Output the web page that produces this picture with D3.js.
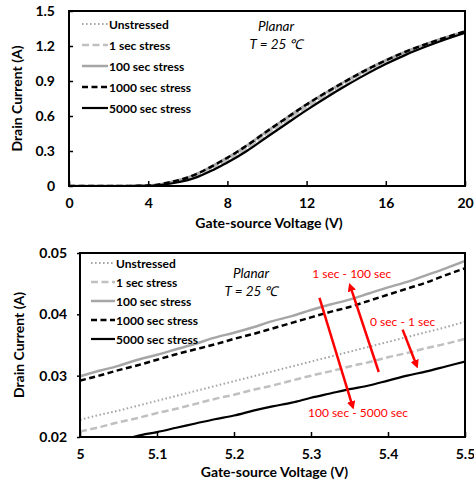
<!DOCTYPE html>
<html>
<head>
<meta charset="utf-8">
<script src="https://cdn.jsdelivr.net/npm/d3@7"></script>
<style>
  html, body { margin: 0; padding: 0; background: #fff; }
  svg { display: block; font-family: Lato, "Liberation Sans", Arial, sans-serif; }
</style>
</head>
<body>
<svg id="chart" width="474" height="485"></svg>
<script>
// ---- Full sweep (0-20 V) ----
const vgsFull = [0, 1, 2, 3, 3.5, 4, 4.5, 5, 5.5, 6, 6.5, 7, 7.5, 8, 9, 10, 11, 12, 13, 14, 15, 16, 17, 18, 19, 20];
const fullUnstressed = [0, 0, 0, 0.0003, 0.001, 0.003, 0.009, 0.023, 0.039, 0.062, 0.095, 0.135, 0.18, 0.225, 0.33, 0.45, 0.565, 0.68, 0.785, 0.885, 0.98, 1.065, 1.14, 1.205, 1.265, 1.32];
const full1s = [0, 0, 0, 0.0003, 0.001, 0.003, 0.008, 0.021, 0.036, 0.058, 0.091, 0.131, 0.176, 0.221, 0.326, 0.446, 0.561, 0.676, 0.781, 0.882, 0.977, 1.062, 1.137, 1.203, 1.263, 1.318];
const full100s = [0, 0, 0, 0.0004, 0.0013, 0.004, 0.012, 0.030, 0.049, 0.074, 0.108, 0.15, 0.196, 0.243, 0.35, 0.47, 0.586, 0.70, 0.804, 0.902, 0.995, 1.078, 1.152, 1.215, 1.273, 1.326];
const full1000s = [0, 0, 0, 0.0004, 0.0012, 0.0038, 0.011, 0.029, 0.048, 0.073, 0.107, 0.149, 0.195, 0.242, 0.349, 0.469, 0.585, 0.699, 0.803, 0.901, 0.994, 1.077, 1.151, 1.214, 1.272, 1.325];
const full5000s = [0, 0, 0, 0.0002, 0.0007, 0.002, 0.006, 0.017, 0.032, 0.050, 0.078, 0.115, 0.157, 0.201, 0.302, 0.42, 0.536, 0.651, 0.759, 0.861, 0.957, 1.045, 1.124, 1.193, 1.256, 1.312];

// ---- Zoomed sweep (5.0-5.5 V) ----
const vgsZoom = [5.000, 5.025, 5.050, 5.075, 5.100, 5.125, 5.150, 5.175, 5.200, 5.225, 5.250, 5.275, 5.300, 5.325, 5.350, 5.375, 5.400, 5.425, 5.450, 5.475, 5.500];
const zoomUnstressed = [0.0228, 0.0236, 0.0243, 0.0251, 0.0259, 0.0267, 0.0275, 0.0283, 0.0291, 0.0299, 0.0307, 0.0315, 0.0323, 0.0331, 0.0339, 0.0347, 0.0355, 0.0363, 0.0371, 0.0379, 0.0388];
const zoom1s = [0.0209, 0.0216, 0.0224, 0.0231, 0.0239, 0.0246, 0.0254, 0.0262, 0.0269, 0.0277, 0.0284, 0.0292, 0.0300, 0.0307, 0.0315, 0.0322, 0.0330, 0.0337, 0.0345, 0.0352, 0.0360];
const zoom100s = [0.0299, 0.0308, 0.0316, 0.0326, 0.0334, 0.0343, 0.0352, 0.0362, 0.0370, 0.0379, 0.0389, 0.0397, 0.0407, 0.0416, 0.0424, 0.0434, 0.0444, 0.0453, 0.0464, 0.0475, 0.0487];
const zoom1000s = [0.0292, 0.0300, 0.0309, 0.0317, 0.0326, 0.0335, 0.0343, 0.0351, 0.0360, 0.0368, 0.0377, 0.0386, 0.0395, 0.0404, 0.0412, 0.0422, 0.0432, 0.0442, 0.0452, 0.0464, 0.0475];
const zoom5000s = [0.0180, 0.0187, 0.0194, 0.0202, 0.0208, 0.0215, 0.0222, 0.0229, 0.0235, 0.0243, 0.0250, 0.0256, 0.0264, 0.0271, 0.0278, 0.0284, 0.0292, 0.0300, 0.0307, 0.0315, 0.0323];

const seriesNames = ["Unstressed", "1 sec stress", "100 sec stress", "1000 sec stress", "5000 sec stress"];

// Tick values
const fullXTicks = [0, 4, 8, 12, 16, 20];
const fullYTicks = [0, 0.3, 0.6, 0.9, 1.2, 1.5];
const zoomXTicks = [5, 5.1, 5.2, 5.3, 5.4, 5.5];
const zoomYTicks = [0.02, 0.03, 0.04, 0.05];

// Red annotations in the zoomed panel (data coordinates)
const annoLabels = ["1 sec - 100 sec", "0 sec - 1 sec", "100 sec - 5000 sec"];
const annoLabelX = [5.353, 5.419, 5.361];
const annoLabelY = [0.0466, 0.0389, 0.0240];
const arrowX0 = [5.388, 5.419, 5.311];
const arrowY0 = [0.0306, 0.0375, 0.0427];
const arrowX1 = [5.351, 5.437, 5.354];
const arrowY1 = [0.0446, 0.0317, 0.0250];

// Line styles per series
const styles = [
  { color: "#a6a6a6", width: 2, dash: "1.6,2.4" },
  { color: "#c0c0c0", width: 2.5, dash: "7,3.5" },
  { color: "#a6a6a6", width: 2.5, dash: null },
  { color: "#000000", width: 2.5, dash: "6,3.5" },
  { color: "#000000", width: 2.2, dash: null }
];

const svg = d3.select("#chart");

svg.append("defs").append("marker")
  .attr("id", "redHead")
  .attr("viewBox", "0 0 10 10")
  .attr("refX", 6).attr("refY", 5)
  .attr("markerWidth", 3.4).attr("markerHeight", 3.4)
  .attr("orient", "auto")
  .append("path").attr("d", "M0,0 L10,5 L0,10 Z").attr("fill", "#ff0000");

function panel(cfg) {
  const g = svg.append("g");
  const x = d3.scaleLinear().domain(cfg.xDomain).range([cfg.left, cfg.right]);
  const y = d3.scaleLinear().domain(cfg.yDomain).range([cfg.bottom, cfg.top]);

  const clipId = "clip" + cfg.id;
  svg.select("defs").append("clipPath").attr("id", clipId)
    .append("rect").attr("x", cfg.left).attr("y", cfg.top)
    .attr("width", cfg.right - cfg.left).attr("height", cfg.bottom - cfg.top);

  // Curves
  const line = d3.line().x(d => x(d[0])).y(d => y(d[1])).curve(d3.curveMonotoneX);
  const lg = g.append("g").attr("clip-path", `url(#${clipId})`);
  cfg.series.forEach((vals, i) => {
    const st = styles[i];
    lg.append("path")
      .datum(cfg.xs.map((v, j) => [v, vals[j]]))
      .attr("fill", "none")
      .attr("stroke", st.color)
      .attr("stroke-width", st.width)
      .attr("stroke-dasharray", st.dash)
      .attr("stroke-linejoin", "round")
      .attr("d", line);
  });

  // Axes
  const xAxis = d3.axisBottom(x).tickValues(cfg.xTicks).tickSize(-5).tickPadding(12)
    .tickFormat(d3.format(cfg.xFmt));
  const yAxis = d3.axisLeft(y).tickValues(cfg.yTicks).tickSize(cfg.yTickSize).tickPadding(cfg.yPad)
    .tickFormat(d => d === 0 ? "0" : d3.format(cfg.yFmt)(d));
  const gx = g.append("g").attr("transform", `translate(0,${cfg.bottom})`).call(xAxis);
  const gy = g.append("g").attr("transform", `translate(${cfg.left},0)`).call(yAxis);
  [gx, gy].forEach(a => {
    a.select(".domain").remove();
    a.selectAll(".tick line").attr("stroke", "#000").attr("stroke-width", 1.5);
    a.selectAll(".tick text").attr("fill", "#000").attr("font-size", 14)
      .attr("font-weight", "bold").attr("font-family", "Lato, sans-serif");
  });

  // Frame
  g.append("rect").attr("x", cfg.left).attr("y", cfg.top)
    .attr("width", cfg.right - cfg.left).attr("height", cfg.bottom - cfg.top)
    .attr("fill", "none").attr("stroke", "#000").attr("stroke-width", 2);

  // Axis titles
  g.append("text").attr("x", (cfg.left + cfg.right) / 2 + 2).attr("y", cfg.xTitleY)
    .attr("text-anchor", "middle").attr("font-size", 14).attr("font-weight", "bold")
    .text("Gate-source Voltage (V)");
  g.append("text")
    .attr("transform", `translate(${cfg.yTitleX},${(cfg.top + cfg.bottom) / 2}) rotate(-90)`)
    .attr("text-anchor", "middle").attr("dominant-baseline", "central")
    .attr("font-size", 14).attr("font-weight", "bold")
    .text("Drain Current (A)");

  // Legend
  seriesNames.forEach((name, i) => {
    const st = styles[i];
    const ly = cfg.legTop + i * cfg.legStep;
    g.append("line").attr("x1", cfg.legX).attr("x2", cfg.legX + cfg.legLen)
      .attr("y1", ly).attr("y2", ly)
      .attr("stroke", st.color).attr("stroke-width", st.width)
      .attr("stroke-dasharray", st.dash);
    g.append("text").attr("x", cfg.legX + cfg.legLen + 1).attr("y", ly)
      .attr("dominant-baseline", "central").attr("font-size", 12).attr("font-weight", "bold")
      .text(name);
  });

  // Condition note
  g.append("text").attr("x", cfg.noteX).attr("y", cfg.noteY)
    .attr("text-anchor", "middle").attr("dominant-baseline", "central")
    .attr("font-size", 13.5).attr("font-style", "italic").text("Planar");
  g.append("text").attr("x", cfg.noteX).attr("y", cfg.noteY + 18)
    .attr("text-anchor", "middle").attr("dominant-baseline", "central")
    .attr("font-size", 13.5).attr("font-style", "italic").text("T = 25 \u2103");

  return { g, x, y };
}

panel({
  id: "Full", left: 69, right: 465, top: 11, bottom: 186,
  xDomain: [0, 20], yDomain: [0, 1.5], xs: vgsFull,
  series: [fullUnstressed, full1s, full100s, full1000s, full5000s],
  xTicks: fullXTicks, yTicks: fullYTicks, xFmt: "d", yFmt: ".1f",
  yTickSize: -4, yPad: 14,
  xTitleY: 228, yTitleX: 16,
  legX: 82, legLen: 26, legTop: 24, legStep: 21,
  noteX: 276, noteY: 26
});

const z = panel({
  id: "Zoom", left: 80, right: 465, top: 253, bottom: 437,
  xDomain: [5, 5.5], yDomain: [0.02, 0.05], xs: vgsZoom,
  series: [zoomUnstressed, zoom1s, zoom100s, zoom1000s, zoom5000s],
  xTicks: zoomXTicks, yTicks: zoomYTicks, xFmt: "", yFmt: ".2f",
  yTickSize: 3, yPad: 10,
  xTitleY: 477, yTitleX: 18,
  legX: 91, legLen: 24, legTop: 263, legStep: 19,
  noteX: 251, noteY: 273
});

// Red arrows and labels
annoLabels.forEach((t, i) => {
  z.g.append("line")
    .attr("x1", z.x(arrowX0[i])).attr("y1", z.y(arrowY0[i]))
    .attr("x2", z.x(arrowX1[i])).attr("y2", z.y(arrowY1[i]))
    .attr("stroke", "#ff0000").attr("stroke-width", 2.5)
    .attr("marker-end", "url(#redHead)");
  z.g.append("text")
    .attr("x", z.x(annoLabelX[i])).attr("y", z.y(annoLabelY[i]))
    .attr("text-anchor", "middle").attr("dominant-baseline", "central")
    .attr("font-size", 12).attr("fill", "#ff0000")
    .text(t);
});
</script>
</body>
</html>
